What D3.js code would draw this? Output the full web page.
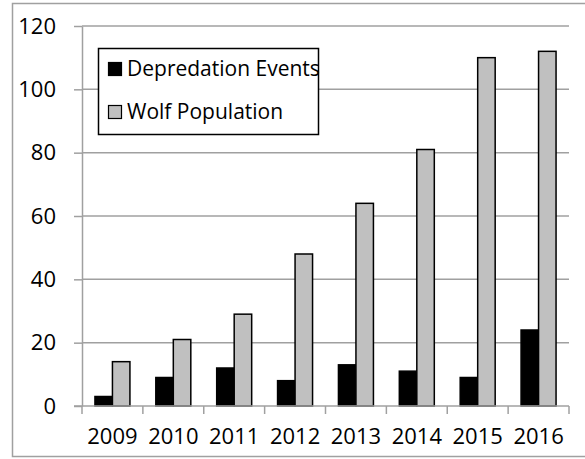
<!DOCTYPE html>
<html><head><meta charset="utf-8">
<script src="https://cdn.jsdelivr.net/npm/d3@7"></script>
<style>body{margin:0;background:#fff}svg{display:block}text{font-family:"Open Sans",sans-serif}</style>
</head><body>
<svg id="c" width="585" height="459"></svg>
<script>
const years = ["2009","2010","2011","2012","2013","2014","2015","2016"];
const depredation = [3, 9, 12, 8, 13, 11, 9, 24];
const wolves = [14, 21, 29, 48, 64, 81, 110, 112];
const seriesNames = ["Depredation Events", "Wolf Population"];
const seriesColors = ["#000000", "#c0c0c0"];
const yTicks = [0, 20, 40, 60, 80, 100, 120];

const svg = d3.select("#c");
const L = 82, R = 569, T = 26, B = 406;

// outer border
svg.append("rect").attr("x", 12.5).attr("y", 3.5).attr("width", 600).attr("height", 453)
  .attr("fill", "none").attr("stroke", "#a0a0a0").attr("stroke-width", 1.5);

const x = d3.scaleBand().domain(years).range([L, R]).paddingInner(0).paddingOuter(0);
const y = d3.scaleLinear().domain([0, 120]).range([B, T]);
const x1 = d3.scaleBand().domain([0, 1]).range([0, x.bandwidth()]).paddingInner(0).paddingOuter(0.74);

// gridlines
svg.append("g").selectAll("line").data(yTicks.filter(d => d > 0)).join("line")
  .attr("x1", L).attr("x2", R).attr("y1", d => y(d)).attr("y2", d => y(d))
  .attr("stroke", "#a0a0a0").attr("stroke-width", 1.5);

// y axis
const ya = svg.append("g").attr("transform", `translate(${L},0)`)
  .call(d3.axisLeft(y).tickValues(yTicks).tickSize(8).tickPadding(18).tickSizeOuter(0));
ya.select(".domain").attr("stroke", "#a0a0a0").attr("stroke-width", 1.5);
ya.selectAll(".tick line").attr("stroke", "#a0a0a0").attr("stroke-width", 1.5);
ya.selectAll("text").attr("font-size", 22).attr("fill", "#000").attr("font-family", "Open Sans");

// bars
const groups = svg.append("g").selectAll("g").data(years).join("g")
  .attr("transform", d => `translate(${x(d)},0)`);
groups.selectAll("rect").data((d, i) => [depredation[i], wolves[i]]).join("rect")
  .attr("x", (d, j) => x1(j)).attr("width", x1.bandwidth())
  .attr("y", d => y(d)).attr("height", d => B - y(d))
  .attr("fill", (d, j) => seriesColors[j]).attr("stroke", "#000").attr("stroke-width", 1.5);

// x axis
const xa = svg.append("g").attr("transform", `translate(0,${B})`)
  .call(d3.axisBottom(x).tickSize(0).tickPadding(22));
xa.select(".domain").remove();
xa.selectAll("text").attr("font-size", 22).attr("fill", "#000").attr("dy", "0.71em").attr("font-family", "Open Sans");
svg.append("line").attr("x1", L - 8).attr("x2", R).attr("y1", B).attr("y2", B)
  .attr("stroke", "#a0a0a0").attr("stroke-width", 1.5);
svg.append("g").selectAll("line").data(d3.range(years.length + 1)).join("line")
  .attr("x1", i => L + i * x.step()).attr("x2", i => L + i * x.step())
  .attr("y1", B).attr("y2", B + 8).attr("stroke", "#a0a0a0").attr("stroke-width", 1.5);

// legend
const lg = svg.append("g");
lg.append("rect").attr("x", 98.5).attr("y", 48.5).attr("width", 220).attr("height", 86)
  .attr("fill", "#fff").attr("stroke", "#000").attr("stroke-width", 1.5);
seriesNames.forEach((n, i) => {
  const cy = 69 + i * 43;
  lg.append("rect").attr("x", 108.5).attr("y", cy - 6.5).attr("width", 13).attr("height", 13)
    .attr("fill", seriesColors[i]).attr("stroke", "#000").attr("stroke-width", 1.2);
  lg.append("text").attr("x", 127).attr("y", cy).attr("dy", "0.35em")
    .attr("font-size", 21).attr("fill", "#000").text(n);
});
</script>
</body></html>
